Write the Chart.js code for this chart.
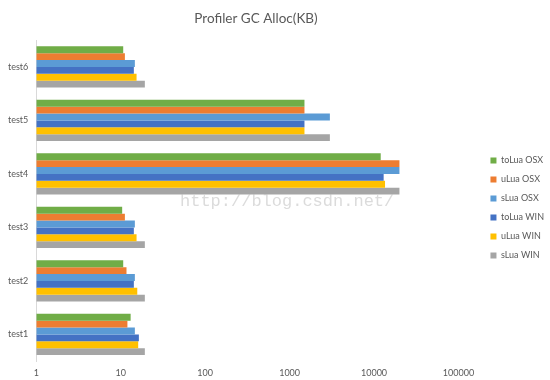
<!DOCTYPE html>
<html>
<head>
<meta charset="utf-8">
<script src="https://cdn.jsdelivr.net/npm/chart.js@4/dist/chart.umd.min.js"></script>
<style>
html,body{margin:0;padding:0;background:#fff;}
#wrap{width:550px;height:380px;}
</style>
</head>
<body>
<div id="wrap"><canvas id="c" width="550" height="380"></canvas></div>
<script>
const categories = ['test1', 'test2', 'test3', 'test4', 'test5', 'test6'];
const seriesNames = ['toLua OSX', 'uLua OSX', 'sLua OSX', 'toLua WIN', 'uLua WIN', 'sLua WIN'];
const toLuaOSX = [13.1, 10.7, 10.4, 12000, 1500, 10.7];
const uLuaOSX  = [12.0, 11.7, 11.2, 20000, 1500, 11.2];
const sLuaOSX  = [14.7, 14.7, 14.7, 20000, 3000, 14.7];
const toLuaWIN = [16.4, 14.3, 14.3, 13000, 1500, 14.3];
const uLuaWIN  = [16.1, 15.7, 15.4, 13500, 1500, 15.4];
const sLuaWIN  = [19.3, 19.3, 19.3, 20000, 3000, 19.3];
const xTickValues = [1, 10, 100, 1000, 10000, 100000];
const colors = ['#70AD47', '#ED7D31', '#5B9BD5', '#4472C4', '#FFC000', '#A5A5A5'];

const seriesValues = [toLuaOSX, uLuaOSX, sLuaOSX, toLuaWIN, uLuaWIN, sLuaWIN];
// categories drawn top-down as test6..test1
const labels = categories.slice().reverse();
const datasets = seriesValues.map((vals, i) => ({
  label: seriesNames[i],
  data: vals.slice().reverse(),
  backgroundColor: colors[i],
  borderWidth: 0,
  categoryPercentage: 0.77,
  barPercentage: 1.0
}));

const watermark = {
  id: 'watermark',
  afterDatasetsDraw(chart) {
    const ctx = chart.ctx;
    ctx.save();
    ctx.font = '17px "Liberation Mono"';
    ctx.fillStyle = 'rgba(190,190,190,0.55)';
    ctx.textBaseline = 'middle';
    ctx.textAlign = 'left';
    ctx.fillText('http://blog.csdn.net/', 180, 201);
    ctx.restore();
  }
};

// nudge the legend box away from the plot, as in the original
const legendNudge = {
  id: 'legendNudge',
  afterLayout(chart) {
    const lg = chart.legend;
    if (!lg) return;
    lg.left += 22; lg.right += 22;
    lg.top += 16; lg.bottom += 16;
    const tb = chart.titleBlock;
    if (tb) { tb.left -= 10; tb.right -= 10; }
  }
};

const txt = '#595959';
new Chart(document.getElementById('c'), {
  type: 'bar',
  data: { labels, datasets },
  plugins: [watermark, legendNudge],
  options: {
    indexAxis: 'y',
    responsive: false,
    animation: false,
    layout: { padding: { left: 0, right: 18, top: 0, bottom: -4 } },
    plugins: {
      title: {
        display: true,
        text: 'Profiler GC Alloc(KB)',
        color: txt,
        font: { family: 'Lato', size: 13.5, weight: 'normal' },
        padding: { top: 11, bottom: 13 }
      },
      legend: {
        position: 'right',
        labels: {
          color: txt,
          font: { family: 'Lato', size: 9 },
          boxWidth: 6,
          boxHeight: 6,
          padding: 10
        }
      },
      tooltip: { enabled: false }
    },
    scales: {
      x: {
        type: 'logarithmic',
        min: 1,
        max: 100000,
        afterBuildTicks(axis) { axis.ticks = xTickValues.map(v => ({ value: v })); },
        ticks: {
          color: txt,
          font: { family: 'Lato', size: 9 },
          padding: 6,
          callback: (v) => String(v)
        },
        grid: { display: false, drawTicks: false },
        border: { display: false }
      },
      y: {
        ticks: {
          color: txt,
          font: { family: 'Lato', size: 9 },
          padding: 8
        },
        grid: { display: false, drawTicks: false },
        border: { display: true, color: '#D9D9D9', width: 1 }
      }
    }
  }
});
</script>
</body>
</html>
